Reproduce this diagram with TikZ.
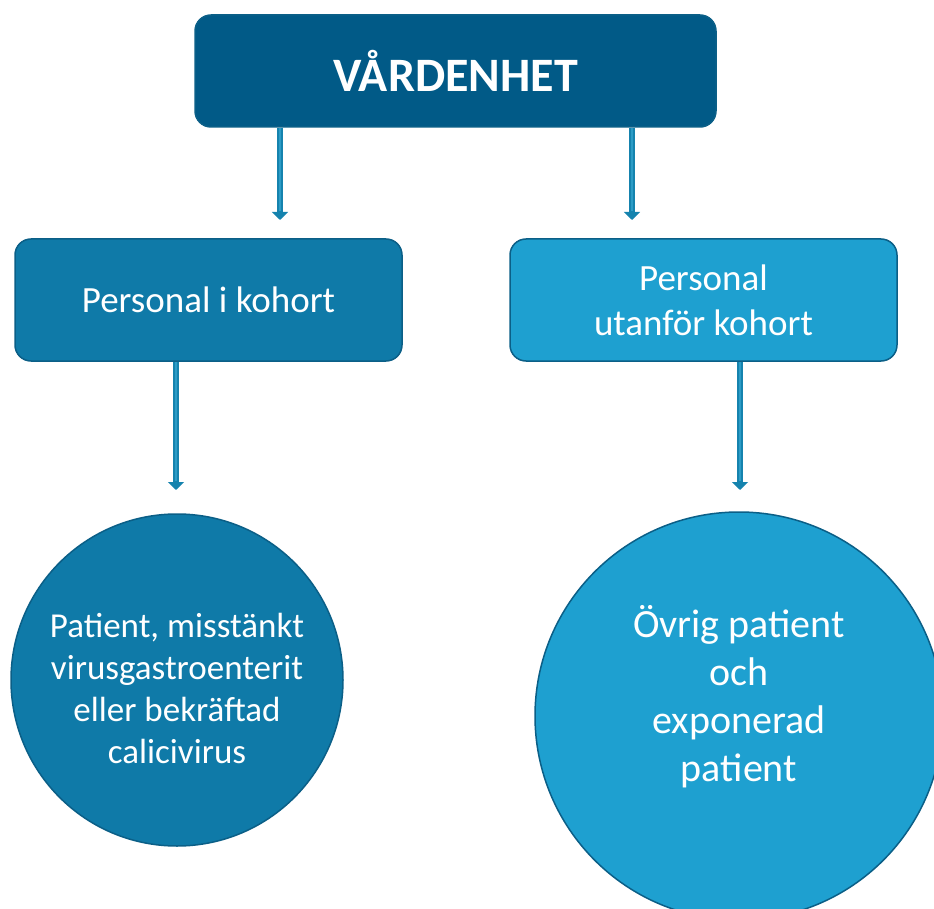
\documentclass[tikz,border=0pt]{standalone}
\usepackage{fontspec}
\setmainfont{Carlito}
\usetikzlibrary{arrows.meta}

\definecolor{darkblue}{HTML}{015A87}
\definecolor{midblue}{HTML}{0F7AA8}
\definecolor{lightblue}{HTML}{1EA0D0}
\definecolor{edgeblue}{HTML}{0B5F87}
\definecolor{arrowblue}{HTML}{1583AE}
\definecolor{arrowhi}{HTML}{2C9CC6}

\tikzset{
	box/.style = {draw=edgeblue, line width=1.5pt, rounded corners=16pt, text=white, align=center,
		minimum width=387pt, minimum height=122pt, font=\fontsize{37}{45}\selectfont},
	roundnode/.style = {circle, draw=edgeblue, line width=1.5pt, inner sep=0pt},
	link/.style = {draw=arrowblue, line width=6pt, -{Triangle[width=16pt,length=8pt]}},
	linkhi/.style = {draw=arrowhi, line width=2pt, shorten >=9pt},
}

\begin{document}
\begin{tikzpicture}[x=1pt, y=-1pt]
				% page size of the picture
				\useasboundingbox (0,0) rectangle (934,909);
				\clip (0,0) rectangle (934,909);
				
				% boxes
				\node[box, fill=darkblue, minimum width=521pt, minimum height=112pt,
					font=\fontsize{48}{56}\selectfont\bfseries] (vard) at (455.5,71) {VÅRDENHET};
				\node[box, fill=midblue] (inside) at (208.5,300) {Personal i kohort};
				\node[box, fill=lightblue] (outside) at (703.5,300) {Personal\\utanför kohort};
				
				% circles
				\node[roundnode, fill=midblue, minimum size=332pt,
					label={[text=white, align=center, font=\fontsize{35}{42}\selectfont, yshift=-8pt]center:{Patient, misstänkt\\virusgastroenterit\\eller bekräftad\\calicivirus}}] (sick) at (177,680) {};
				\node[roundnode, fill=lightblue, minimum size=408pt,
					label={[text=white, align=center, font=\fontsize{40}{48}\selectfont, yshift=19pt]center:{Övrig patient\\och\\exponerad\\patient}}] (other) at (739,716) {};
				
				% arrows
				\coordinate (endA) at (280,220);
				\coordinate (endB) at (632,220);
				\coordinate (endC) at (176,490);
				\coordinate (endD) at (740,490);
				\foreach \from/\to in {vard/endA, vard/endB, inside/endC, outside/endD} {
					\draw[link] (\from.south -| \to) -- (\to);
					\draw[linkhi] (\from.south -| \to) -- (\to);
				}
				
			\end{tikzpicture}
\end{document}
